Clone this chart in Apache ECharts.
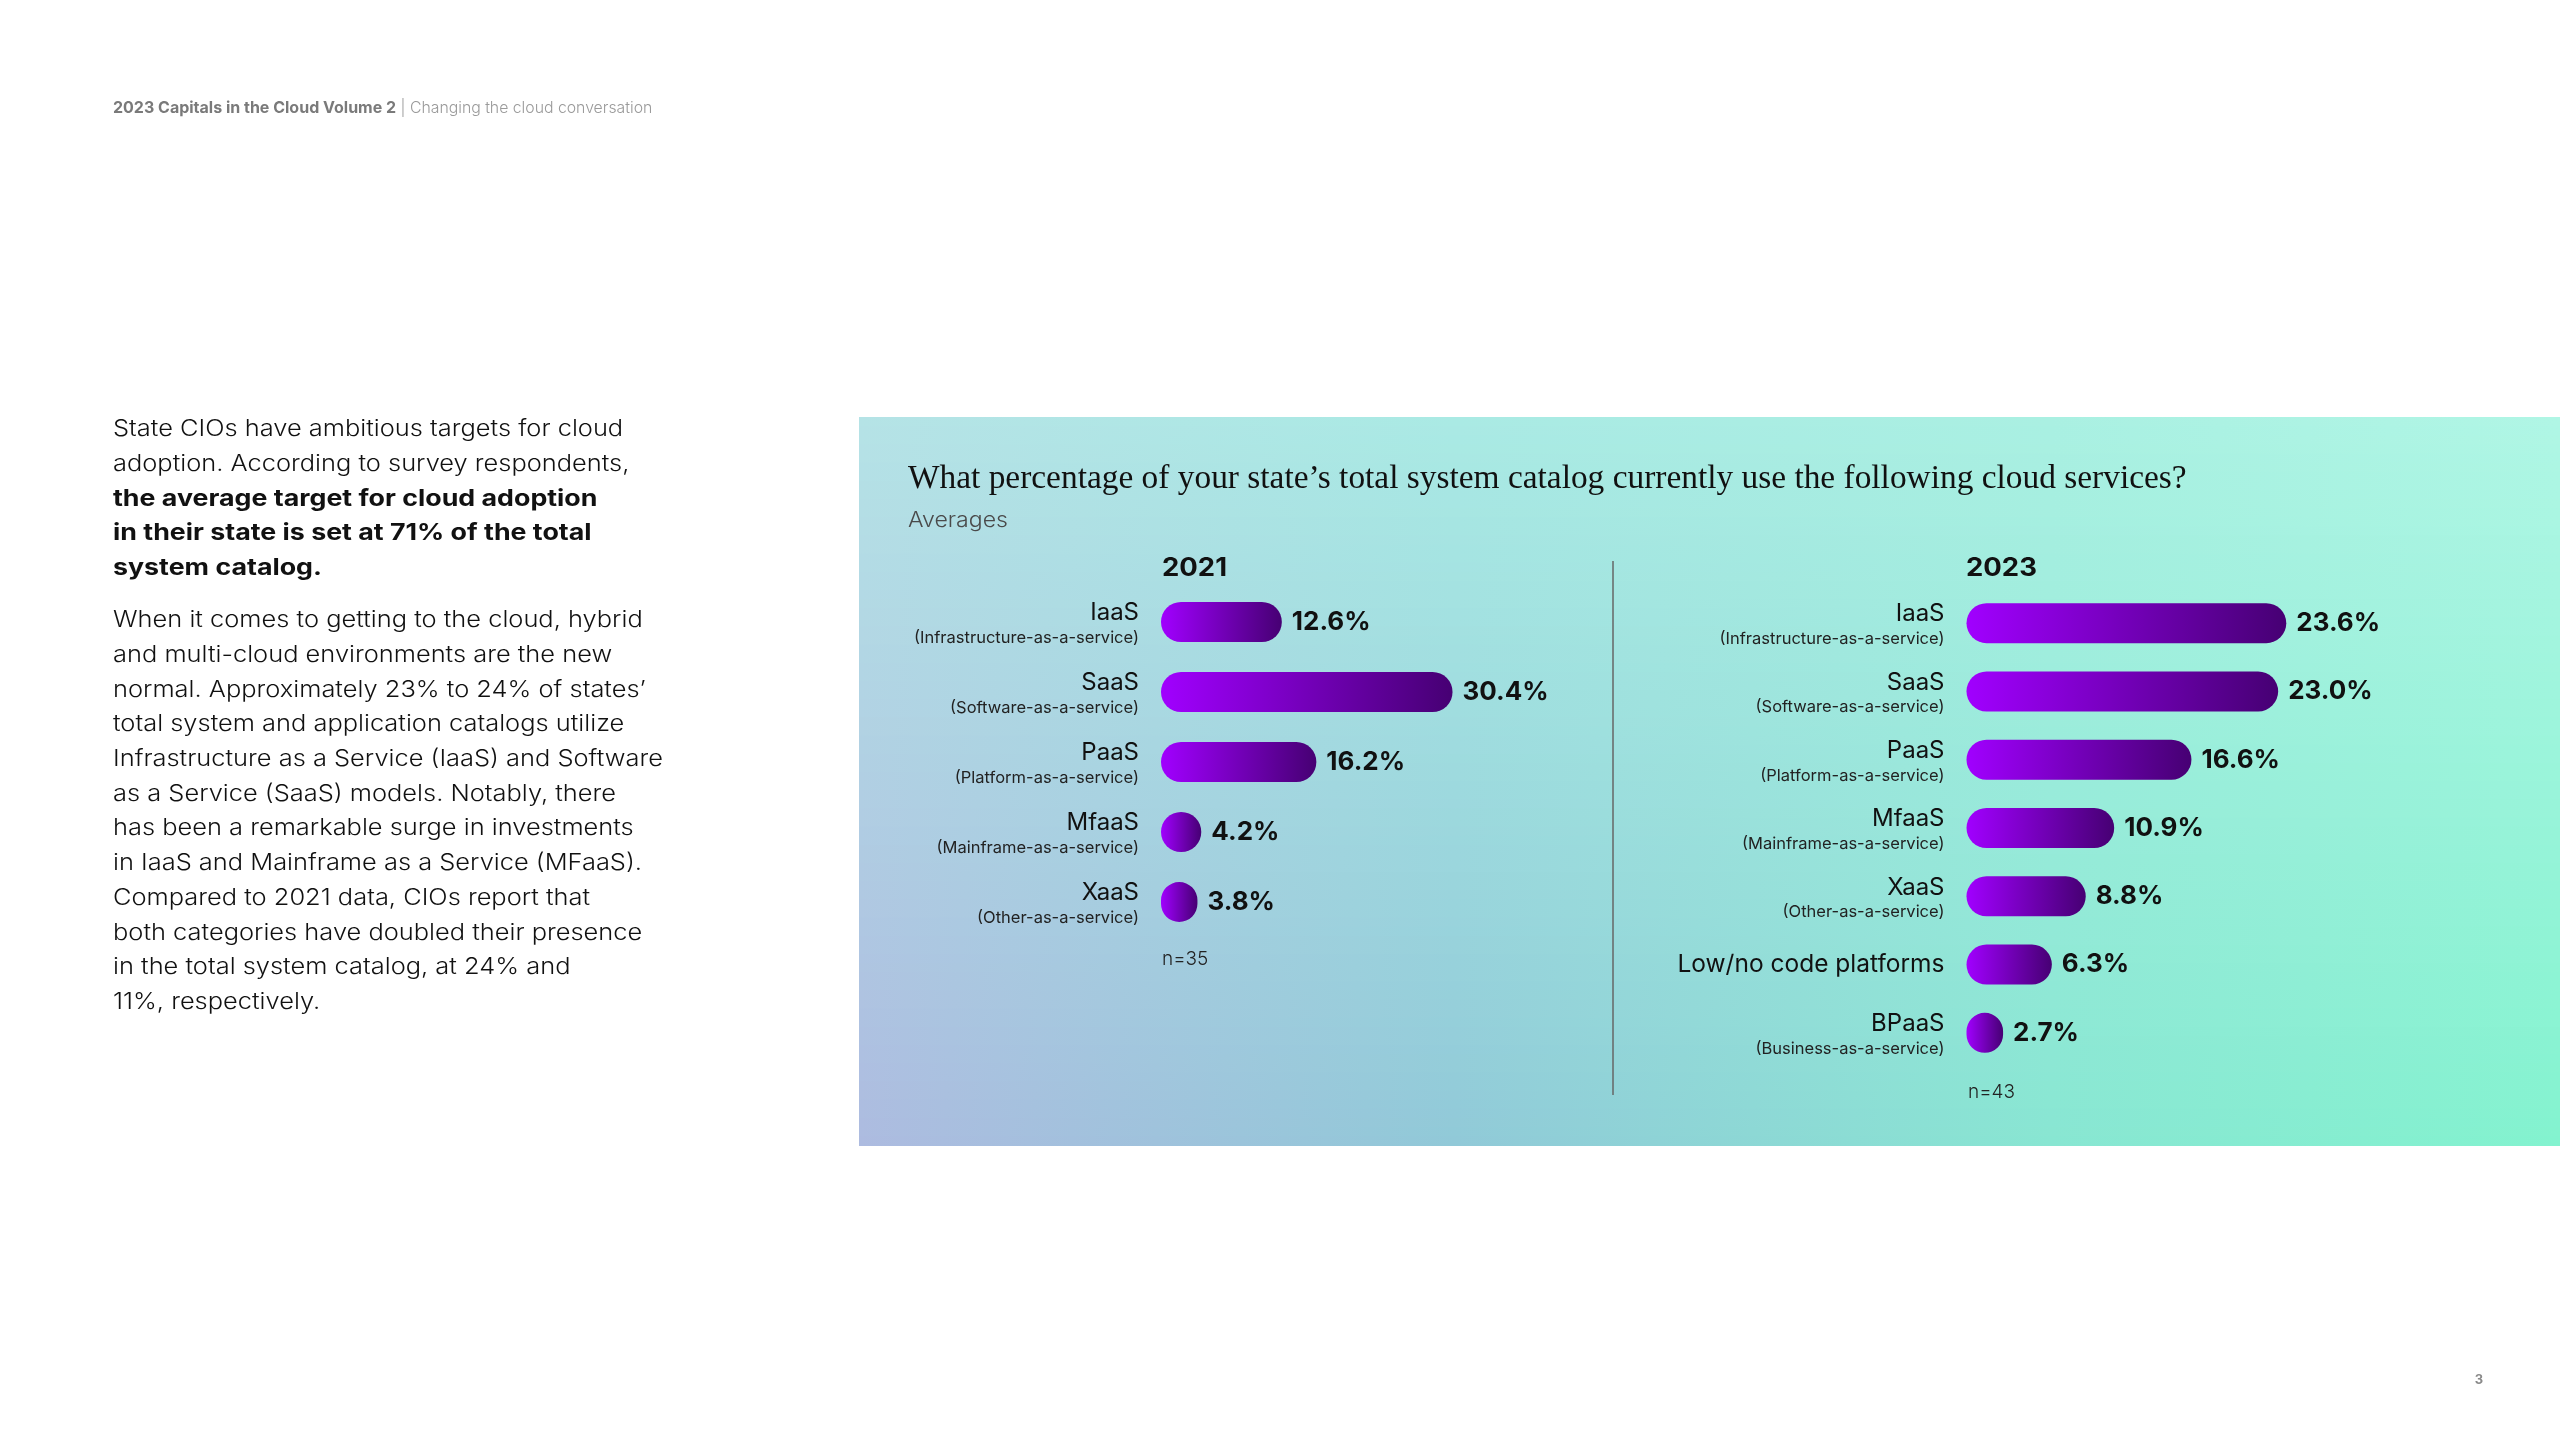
<!DOCTYPE html>
<html>
<head>
<meta charset="utf-8">
<script src="https://cdn.jsdelivr.net/npm/echarts@6/dist/echarts.min.js"></script>
<style>
  html, body { margin: 0; padding: 0; background: #ffffff; }
  #chart { width: 2560px; height: 1440px; }
</style>
</head>
<body>
<div id="chart"></div>
<script>
// ---------- data ----------
const categories2021 = ['IaaS', 'SaaS', 'PaaS', 'MfaaS', 'XaaS'];
const subtitles2021 = ['(Infrastructure-as-a-service)', '(Software-as-a-service)', '(Platform-as-a-service)', '(Mainframe-as-a-service)', '(Other-as-a-service)'];
const values2021 = [12.6, 30.4, 16.2, 4.2, 3.8];

const categories2023 = ['IaaS', 'SaaS', 'PaaS', 'MfaaS', 'XaaS', 'Low/no code platforms', 'BPaaS'];
const subtitles2023 = ['(Infrastructure-as-a-service)', '(Software-as-a-service)', '(Platform-as-a-service)', '(Mainframe-as-a-service)', '(Other-as-a-service)', '', '(Business-as-a-service)'];
const values2023 = [23.6, 23.0, 16.6, 10.9, 8.8, 6.3, 2.7];

const sample2021 = 'n=35';
const sample2023 = 'n=43';
const year2021 = '2021';
const year2023 = '2023';

const chartTitle = 'What percentage of your state\u2019s total system catalog currently use the following cloud services?';
const chartSubtitle = 'Averages';
const headerBold = '2023 Capitals in the Cloud Volume 2';
const headerLight = ' | Changing the cloud conversation';
const pageNumber = '3';

const para1 = [
  ['State CIOs have ambitious targets for cloud', false],
  ['adoption. According to survey respondents,', false],
  ['the average target for cloud adoption', true],
  ['in their state is set at 71% of the total', true],
  ['system catalog.', true]
];
const para2 = [
  'When it comes to getting to the cloud, hybrid',
  'and multi-cloud environments are the new',
  'normal. Approximately 23% to 24% of states\u2019',
  'total system and application catalogs utilize',
  'Infrastructure as a Service (IaaS) and Software',
  'as a Service (SaaS) models. Notably, there',
  'has been a remarkable surge in investments',
  'in IaaS and Mainframe as a Service (MFaaS).',
  'Compared to 2021 data, CIOs report that',
  'both categories have doubled their presence',
  'in the total system catalog, at 24% and',
  '11%, respectively.'
];

// ---------- style ----------
const SANS = 'Inter, "Noto Sans", sans-serif';
const SERIF = '"Liberation Serif", "DejaVu Serif", serif';

const panel = { x: 859, y: 417, w: 1701, h: 728 };
const topStops = [[0, '#b5e3e6'], [0.35, '#aaeae4'], [0.7, '#aaf0e2'], [1, '#b0f6e5']];
const botStops = [[0, '#adbbe0'], [0.35, '#91c9d8'], [0.7, '#88e6d2'], [1, '#83f3cf']];

function hexToRgb(h) { return [parseInt(h.slice(1,3),16), parseInt(h.slice(3,5),16), parseInt(h.slice(5,7),16)]; }
function mix(a, b, t) {
  const A = hexToRgb(a), B = hexToRgb(b);
  return 'rgb(' + A.map((v, i) => Math.round(v + (B[i] - v) * t)).join(',') + ')';
}

const graphics = [];
// panel background (bilinear gradient built from strips)
const N = 80;
for (let i = 0; i < N; i++) {
  const t = (i + 0.5) / N;
  const stops = topStops.map((s, k) => ({ offset: s[0], color: mix(s[1], botStops[k][1], t) }));
  graphics.push({
    type: 'rect', silent: true, z: -10,
    shape: { x: panel.x, y: panel.y + panel.h * i / N, width: panel.w, height: panel.h / N + 1 },
    style: { fill: new echarts.graphic.LinearGradient(0, 0, 1, 0, stops) }
  });
}

// header
graphics.push({
  type: 'text', x: 113, y: 108, z: 5,
  style: {
    text: '{a|' + headerBold + '}{b|' + headerLight + '}',
    verticalAlign: 'middle',
    rich: {
      a: { fontFamily: SANS, fontSize: 16, fontWeight: 'bold', fill: '#7a7a7a' },
      b: { fontFamily: SANS, fontSize: 15.8, fontWeight: 300, fill: '#9a9a9a' }
    }
  }
});
// page number
graphics.push({
  type: 'text', x: 2479, y: 1380, z: 5,
  style: { text: pageNumber, fontFamily: SANS, fontSize: 13, fontWeight: 'bold', fill: '#8a8a8a', align: 'center', verticalAlign: 'middle' }
});

// left paragraphs (horizontally stretched to mimic the wide original face)
const LH = 34.7;
const BODY_SCALE = 1.13;
const BOLD_SCALE = 1.19;
para1.forEach((ln, i) => {
  graphics.push({
    type: 'text', x: 113, y: 429.5 + i * LH, z: 5, scaleX: ln[1] ? BOLD_SCALE : BODY_SCALE, originX: 0,
    style: { text: ln[0], fontFamily: SANS, fontSize: 22.5, fontWeight: ln[1] ? 'bold' : 300, fill: '#111', verticalAlign: 'middle' }
  });
});
para2.forEach((ln, i) => {
  graphics.push({
    type: 'text', x: 113, y: 620.5 + i * LH, z: 5, scaleX: BODY_SCALE, originX: 0,
    style: { text: ln, fontFamily: SANS, fontSize: 22.5, fontWeight: 300, fill: '#111', verticalAlign: 'middle' }
  });
});

// chart title & subtitle
graphics.push({
  type: 'text', x: 908, y: 479, z: 5,
  style: { text: chartTitle, fontFamily: SERIF, fontSize: 33.4, fill: '#111', verticalAlign: 'middle' }
});
graphics.push({
  type: 'text', x: 908, y: 521, z: 5, scaleX: 1.1, originX: 0,
  style: { text: chartSubtitle, fontFamily: SANS, fontSize: 21, fontWeight: 300, fill: '#4a4a4a', verticalAlign: 'middle' }
});
// year headings
graphics.push({
  type: 'text', x: 1162, y: 568, z: 5, scaleX: 1.1, originX: 0,
  style: { text: year2021, fontFamily: SANS, fontSize: 25, fontWeight: 'bold', fill: '#111', verticalAlign: 'middle' }
});
graphics.push({
  type: 'text', x: 1966, y: 568, z: 5, scaleX: 1.1, originX: 0,
  style: { text: year2023, fontFamily: SANS, fontSize: 25, fontWeight: 'bold', fill: '#111', verticalAlign: 'middle' }
});
// sample sizes
graphics.push({
  type: 'text', x: 1162, y: 959, z: 5,
  style: { text: sample2021, fontFamily: SANS, fontSize: 19, fontWeight: 300, fill: '#222', verticalAlign: 'middle' }
});
graphics.push({
  type: 'text', x: 1968, y: 1092, z: 5,
  style: { text: sample2023, fontFamily: SANS, fontSize: 19, fontWeight: 300, fill: '#222', verticalAlign: 'middle' }
});
// divider
graphics.push({
  type: 'line', z: 5, silent: true,
  shape: { x1: 1613, y1: 561, x2: 1613, y2: 1095 },
  style: { stroke: '#666', lineWidth: 1.5 }
});

const barGradient = new echarts.graphic.LinearGradient(0, 0, 1, 0, [
  { offset: 0, color: '#a100ff' },
  { offset: 1, color: '#460073' }
]);

function labelFormatter(subs) {
  return function (val, idx) {
    return subs[idx] ? '{a|' + val + '}\n{b|' + subs[idx] + '}' : '{c|' + val + '}';
  };
}
const labelRich = {
  a: { fontFamily: SANS, fontSize: 24, lineHeight: 32, color: '#111', align: 'right' },
  b: { fontFamily: SANS, fontSize: 16.5, lineHeight: 18, color: '#222', align: 'right' },
  c: { fontFamily: SANS, fontSize: 24.5, lineHeight: 32, color: '#111', align: 'right' }
};

function yAxisFor(gridIndex, cats, subs) {
  return {
    type: 'category', gridIndex, data: cats, inverse: true,
    axisLine: { show: false }, axisTick: { show: false }, splitLine: { show: false },
    axisLabel: { margin: 22, formatter: labelFormatter(subs), rich: labelRich }
  };
}
function seriesFor(idx, vals) {
  return {
    type: 'bar', xAxisIndex: idx, yAxisIndex: idx, data: vals,
    barWidth: 40,
    itemStyle: { color: barGradient, borderRadius: 20 },
    label: {
      show: true, position: 'right', distance: 10,
      formatter: p => p.value.toFixed(1) + '%',
      fontFamily: SANS, fontSize: 26, fontWeight: 'bold', color: '#111'
    },
    emphasis: { disabled: true }
  };
}

const chart = echarts.init(document.getElementById('chart'), null, { renderer: 'canvas' });
chart.setOption({
  backgroundColor: '#ffffff',
  animation: false,
  graphic: graphics,
  grid: [
    { left: 1161, top: 587, width: 40 * 9.59, height: 350, containLabel: false, outerBoundsMode: 'none' },
    { left: 1966.5, top: 589, width: 40 * 13.55, height: 478, containLabel: false, outerBoundsMode: 'none' }
  ],
  xAxis: [
    { type: 'value', gridIndex: 0, min: 0, max: 40, show: false },
    { type: 'value', gridIndex: 1, min: 0, max: 40, show: false }
  ],
  yAxis: [
    yAxisFor(0, categories2021, subtitles2021),
    yAxisFor(1, categories2023, subtitles2023)
  ],
  series: [
    seriesFor(0, values2021),
    seriesFor(1, values2023)
  ]
});
</script>
</body>
</html>
